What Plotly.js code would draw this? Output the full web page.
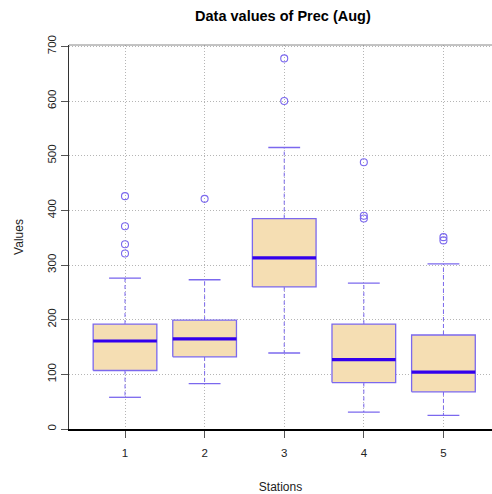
<!DOCTYPE html>
<html>
<head>
<meta charset="utf-8">
<script src="https://cdn.plot.ly/plotly-3.0.1.min.js"></script>
<style>html,body{margin:0;padding:0;background:#fff;}#chart{width:492px;height:494px;}</style>
</head>
<body>
<div id="chart"></div>
<script>
// Data
const stations = [1, 2, 3, 4, 5];
const tickLabels = ['1', '2', '3', '4', '5'];
const lowerWhisker = [58, 83, 139, 31, 25];
const q1 = [107, 132, 260, 85, 68];
const median = [161, 165, 313, 127, 104];
const q3 = [192, 199, 385, 192, 172];
const upperWhisker = [276, 273, 515, 267, 302];
const outlierStation = [1, 1, 1, 1, 2, 3, 3, 4, 4, 4, 5, 5];
const outlierValue = [426, 371, 338, 321, 421, 678, 600, 488, 390, 385, 351, 345];

const half = 0.4, capHalf = 0.2;
const borderCol = '#7B68EE', medCol = '#3300EE', fillCol = '#F5DEB3';

const bx = [], by = [], mx = [], my = [], wx = [], wy = [], cx = [], cy = [];
stations.forEach((s, i) => {
  bx.push(s - half, s + half, s + half, s - half, s - half, null);
  by.push(q1[i], q1[i], q3[i], q3[i], q1[i], null);
  mx.push(s - half, s + half, null);
  my.push(median[i], median[i], null);
  wx.push(s, s, null, s, s, null);
  wy.push(q3[i], upperWhisker[i], null, q1[i], lowerWhisker[i], null);
  cx.push(s - capHalf, s + capHalf, null, s - capHalf, s + capHalf, null);
  cy.push(upperWhisker[i], upperWhisker[i], null, lowerWhisker[i], lowerWhisker[i], null);
});

const traces = [
  {x: wx, y: wy, mode: 'lines', line: {color: borderCol, width: 1, dash: '4px,3px'}, hoverinfo: 'skip'},
  {x: cx, y: cy, mode: 'lines', line: {color: borderCol, width: 1.3}, hoverinfo: 'skip'},
  {x: bx, y: by, mode: 'lines', fill: 'toself', fillcolor: fillCol, line: {color: borderCol, width: 1.3}, hoverinfo: 'skip'},
  {x: mx, y: my, mode: 'lines', line: {color: medCol, width: 3.2}, hoverinfo: 'skip'},
  {x: outlierStation, y: outlierValue, mode: 'markers', marker: {symbol: 'circle-open', size: 7, color: borderCol, line: {width: 1.1}}, hoverinfo: 'skip'}
];

const layout = {
  width: 492, height: 494,
  margin: {l: 69, r: 0, t: 45, b: 65},
  paper_bgcolor: '#fff', plot_bgcolor: '#fff',
  showlegend: false,
  font: {family: 'Liberation Sans, Arial, sans-serif', color: '#222'},
  title: {text: '<b>Data values of Prec (Aug)</b>', font: {size: 14.5, color: '#000'}, x: 0.575, xanchor: 'center', y: 0.967, yanchor: 'middle'},
  xaxis: {
    range: [0.2965, 5.61], tickvals: stations, ticktext: tickLabels,
    showgrid: true, gridcolor: '#b5b5b5', griddash: '1px,2px', gridwidth: 1,
    zeroline: false, showline: true, linecolor: '#000', linewidth: 1.5,
    ticks: 'outside', ticklen: 7, tickcolor: '#555', ticklabelstandoff: 6,
    tickfont: {size: 11.5, color: '#222'},
    title: {text: 'Stations', font: {size: 12, color: '#222'}, standoff: 24}
  },
  yaxis: {
    range: [0, 702.5], tickvals: [0, 100, 200, 300, 400, 500, 600, 700],
    showgrid: true, gridcolor: '#b5b5b5', griddash: '1px,2px', gridwidth: 1,
    zeroline: false, showline: true, linecolor: '#333', linewidth: 1.3,
    ticks: 'outside', ticklen: 7, tickcolor: '#555', tickangle: -90,
    tickfont: {size: 11.5, color: '#222'},
    title: {text: 'Values', font: {size: 12, color: '#222'}, standoff: 20}
  },
  shapes: [
    {type: 'line', xref: 'paper', yref: 'paper', x0: 0, x1: 1, y0: 1, y1: 1, line: {color: '#888', width: 1}}
  ]
};

Plotly.newPlot('chart', traces, layout, {displayModeBar: false, staticPlot: true});
</script>
</body>
</html>
